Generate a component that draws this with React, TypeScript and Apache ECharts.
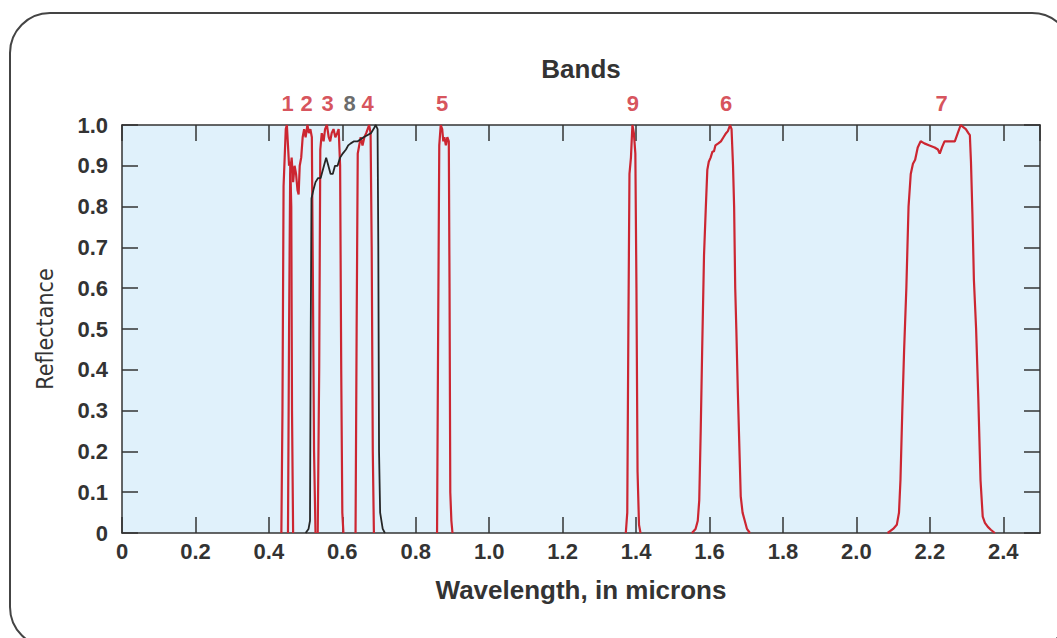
import React, { useEffect, useRef } from "react";
import * as echarts from "echarts";

// ---- Data (wavelength in microns, relative reflectance) ----
const band1: number[][] = [[0.434,0],[0.437,0.3],[0.440,0.85],[0.443,0.92],[0.446,0.99],[0.449,1.0],[0.452,0.95],[0.455,0.9],[0.458,0.91],[0.461,0.8],[0.463,0.3],[0.466,0]];
const band2: number[][] = [[0.452,0],[0.455,0.5],[0.458,0.88],[0.462,0.92],[0.466,0.86],[0.470,0.9],[0.474,0.88],[0.478,0.84],[0.481,0.83],[0.484,0.9],[0.488,0.92],[0.492,0.97],[0.496,0.99],[0.500,0.97],[0.505,1.0],[0.509,0.98],[0.513,0.99],[0.517,0.97],[0.520,0.6],[0.523,0.2],[0.527,0]];
const band3: number[][] = [[0.533,0],[0.537,0.4],[0.540,0.94],[0.544,0.98],[0.549,0.96],[0.553,0.99],[0.558,1.0],[0.563,0.97],[0.567,0.96],[0.571,0.98],[0.576,0.99],[0.581,0.97],[0.586,0.98],[0.590,0.99],[0.594,0.9],[0.597,0.4],[0.600,0.05],[0.603,0]];
const band4: number[][] = [[0.636,0],[0.639,0.5],[0.642,0.93],[0.646,0.95],[0.650,0.97],[0.655,0.95],[0.660,0.97],[0.665,0.98],[0.669,0.99],[0.673,1.0],[0.677,0.98],[0.680,0.7],[0.683,0.2],[0.686,0]];
const band5: number[][] = [[0.858,0],[0.861,0.5],[0.864,0.95],[0.868,1.0],[0.872,0.99],[0.875,0.96],[0.878,0.97],[0.882,0.95],[0.886,0.97],[0.890,0.96],[0.892,0.6],[0.894,0.1],[0.897,0.03],[0.900,0]];
const band9: number[][] = [[1.372,0],[1.376,0.05],[1.379,0.5],[1.382,0.88],[1.386,0.92],[1.390,1.0],[1.394,0.98],[1.398,0.93],[1.401,0.6],[1.404,0.15],[1.408,0.02],[1.412,0]];
const band6: number[][] = [[1.552,0],[1.562,0.01],[1.568,0.03],[1.572,0.08],[1.576,0.25],[1.580,0.45],[1.585,0.68],[1.590,0.8],[1.594,0.89],[1.598,0.91],[1.603,0.92],[1.608,0.935],[1.612,0.935],[1.616,0.95],[1.624,0.955],[1.631,0.96],[1.638,0.97],[1.645,0.98],[1.650,0.985],[1.656,1.0],[1.660,0.99],[1.664,0.9],[1.667,0.8],[1.670,0.6],[1.673,0.5],[1.677,0.35],[1.681,0.22],[1.685,0.09],[1.690,0.05],[1.696,0.03],[1.702,0.01],[1.710,0]];
const band7: number[][] = [[2.085,0],[2.100,0.01],[2.110,0.02],[2.116,0.05],[2.120,0.13],[2.125,0.3],[2.130,0.45],[2.136,0.6],[2.142,0.8],[2.148,0.88],[2.154,0.905],[2.160,0.915],[2.167,0.945],[2.175,0.96],[2.185,0.955],[2.199,0.95],[2.213,0.945],[2.222,0.94],[2.227,0.93],[2.233,0.945],[2.240,0.96],[2.254,0.96],[2.268,0.96],[2.276,0.98],[2.284,1.0],[2.291,0.995],[2.298,0.99],[2.305,0.98],[2.309,0.975],[2.312,0.91],[2.316,0.78],[2.320,0.62],[2.326,0.5],[2.332,0.33],[2.338,0.13],[2.344,0.04],[2.350,0.025],[2.358,0.015],[2.366,0.008],[2.377,0]];
const band8: number[][] = [[0.500,0],[0.508,0.01],[0.512,0.03],[0.514,0.5],[0.516,0.82],[0.521,0.84],[0.527,0.86],[0.534,0.87],[0.541,0.87],[0.550,0.9],[0.556,0.92],[0.562,0.9],[0.568,0.88],[0.574,0.88],[0.580,0.9],[0.587,0.9],[0.594,0.92],[0.601,0.93],[0.610,0.94],[0.616,0.95],[0.623,0.955],[0.632,0.96],[0.642,0.96],[0.650,0.965],[0.658,0.97],[0.668,0.975],[0.678,0.98],[0.685,0.99],[0.691,1.0],[0.696,0.99],[0.698,0.7],[0.700,0.2],[0.703,0.05],[0.710,0.01],[0.716,0]];

const redBands = [band1, band2, band3, band4, band5, band9, band6, band7];
const bandLabels = ["1", "2", "3", "8", "4", "5", "9", "6", "7"];
const bandLabelWavelengths = [0.451, 0.503, 0.560, 0.620, 0.669, 0.872, 1.391, 1.645, 2.232];

const X_MAX = 2.5;

const RED = "#cc2631";
const DARK = "#333333";
const FONT = "'Liberation Sans', Arial, sans-serif";
const NARROW = "'Liberation Sans Narrow', 'DejaVu Sans Condensed', 'Liberation Sans', sans-serif";

export default function App() {
  const ref = useRef<HTMLDivElement>(null);
  useEffect(() => {
    if (!ref.current) return;
    document.body.style.margin = "0";
    const chart = echarts.init(ref.current, undefined, { renderer: "svg" });
    const fmt = (v: number) => (v === 0 ? "0" : v.toFixed(1));
    const series: any[] = redBands.map((d) => ({
      type: "line",
      data: d,
      symbol: "none",
      smooth: false,
      lineStyle: { color: RED, width: 2.2 },
      z: 3,
    }));
    series.push({
      type: "line",
      data: band8,
      symbol: "none",
      lineStyle: { color: "#262626", width: 1.8 },
      z: 4,
    });
    series.push({
      type: "scatter",
      symbolSize: 0,
      data: bandLabels.map((t, i) => ({
        value: [bandLabelWavelengths[i], 1.0],
        name: t,
        label: { color: t === "8" ? "#444" : RED },
      })),
      label: {
        show: true,
        position: "top",
        distance: 11,
        formatter: (p: any) => p.name,
        fontFamily: FONT,
        fontWeight: "bold",
        fontSize: 22,
      },
      z: 5,
    });
    const axisLine = { show: true, onZero: false, lineStyle: { color: DARK, width: 1.5 } };
    const axisTick = { show: true, inside: true, length: 16, lineStyle: { color: DARK, width: 1.5 } };
    chart.setOption({
      animation: false,
      grid: {
        left: 122,
        right: 17,
        top: 125,
        bottom: 105,
        show: true,
        backgroundColor: "#e0f1fb",
        borderWidth: 0,
      },
      graphic: [
        {
          type: "rect",
          shape: { x: 10, y: 13, width: 1062, height: 634, r: 40 },
          style: { fill: "none", stroke: "#444", lineWidth: 2 },
          z: -1,
          silent: true,
        },
        {
          type: "text",
          x: 581,
          y: 69,
          style: {
            text: "Bands",
            fill: DARK,
            font: `bold 26px ${FONT}`,
            textAlign: "center",
            textVerticalAlign: "middle",
          },
        },
      ],
      xAxis: [
        {
          type: "value",
          min: 0,
          max: X_MAX,
          interval: 0.2,
          position: "bottom",
          axisLine,
          axisTick,
          splitLine: { show: false },
          axisLabel: {
            formatter: fmt,
            showMaxLabel: false,
            color: DARK,
            fontFamily: FONT,
            fontWeight: "bold",
            fontSize: 22,
            margin: 7,
          },
          name: "Wavelength, in microns",
          nameLocation: "middle",
          nameGap: 44,
          nameTextStyle: { color: DARK, fontFamily: FONT, fontWeight: "bold", fontSize: 26 },
        },
        {
          type: "value",
          min: 0,
          max: X_MAX,
          interval: 0.2,
          position: "top",
          axisLine,
          axisTick,
          splitLine: { show: false },
          axisLabel: { show: false },
        },
      ],
      yAxis: [
        {
          type: "value",
          min: 0,
          max: 1,
          interval: 0.1,
          position: "left",
          axisLine,
          axisTick,
          splitLine: { show: false },
          axisLabel: {
            formatter: fmt,
            color: DARK,
            fontFamily: FONT,
            fontWeight: "bold",
            fontSize: 22,
            margin: 14,
          },
          name: "Reflectance",
          nameLocation: "middle",
          nameGap: 66,
          nameRotate: 90,
          nameTextStyle: { color: DARK, fontFamily: NARROW, fontSize: 23 },
        },
        {
          type: "value",
          min: 0,
          max: 1,
          interval: 0.1,
          position: "right",
          axisLine,
          axisTick,
          splitLine: { show: false },
          axisLabel: { show: false },
        },
      ],
      series,
    });
    return () => chart.dispose();
  }, []);
  return (
    <div
      ref={ref}
      style={{ position: "absolute", left: 0, top: 0, width: 1057, height: 638 }}
    />
  );
}
